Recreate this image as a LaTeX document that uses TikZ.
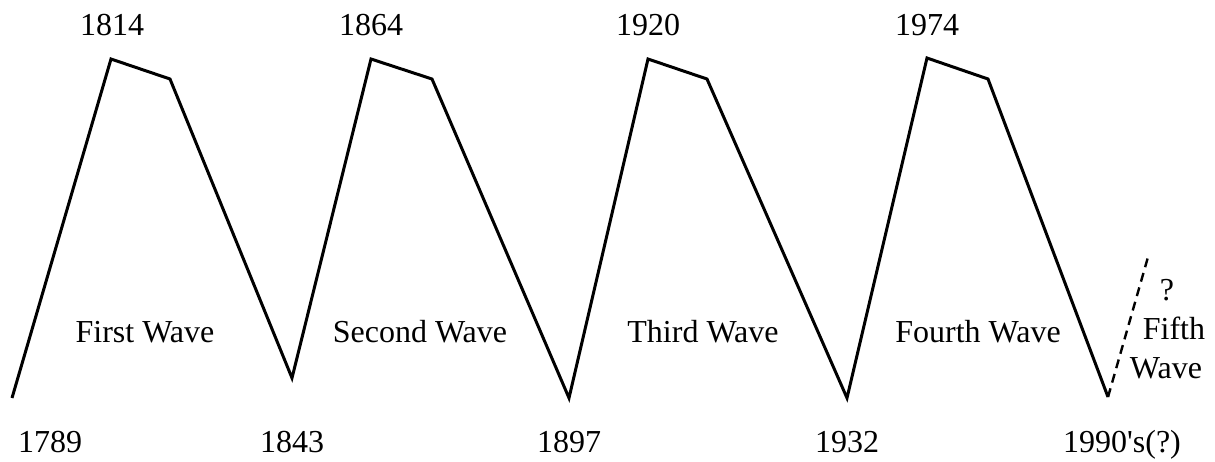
\documentclass[tikz,border=0pt]{standalone}
\usepackage{fontspec}
\setmainfont{Liberation Serif}
\usetikzlibrary{positioning}

\begin{document}
\begin{tikzpicture}[x=1pt, y=-1pt, year/.style={font=\fontsize{32}{36}\selectfont, anchor=base}, wavelabel/.style={font=\fontsize{32}{36}\selectfont}, wave/.style={draw=black, line width=3pt, line join=miter}]
    \useasboundingbox (0,0) rectangle (1215,461);
    % turning points of the waves
    \coordinate (s0) at (12,398);
    \coordinate (p1) at (111,59);  \coordinate (q1) at (170,79);  \coordinate (s1) at (292,378);
    \coordinate (p2) at (371,59);  \coordinate (q2) at (432,79);  \coordinate (s2) at (569,398);
    \coordinate (p3) at (648,59);  \coordinate (q3) at (707,79);  \coordinate (s3) at (847,398);
    \coordinate (p4) at (927,58);  \coordinate (q4) at (988,79);  \coordinate (s4) at (1108,397);
    \coordinate (p5) at (1148,257);
    \draw[wave] (s0) -- (p1) -- (q1) -- (s1) -- (p2) -- (q2) -- (s2) -- (p3) -- (q3) -- (s3) -- (p4) -- (q4) -- (s4);
    \draw[wave, line width=2.4pt, dash pattern=on 9pt off 6pt] (s4) -- (p5);
    % years
    \node[year] (y1814) at (112,35) {1814};
    \node[year] (y1864) at (371,35) {1864};
    \node[year] (y1920) at (648,35) {1920};
    \node[year] (y1974) at (927,35) {1974};
    \node[year] (y1789) at (50,452) {1789};
    \node[year] (y1843) at (292,452) {1843};
    \node[year] (y1897) at (569,452) {1897};
    \node[year] (y1932) at (847,452) {1932};
    \node[year] (y1990) at (1122,452) {1990\textquotesingle s(?)};
    % wave names
    \node[wavelabel] (w1) at (145,332) {First Wave};
    \node[wavelabel] (w2) at (420,332) {Second Wave};
    \node[wavelabel] (w3) at (703,332) {Third Wave};
    \node[wavelabel] (w4) at (978,332) {Fourth Wave};
    \node[wavelabel] (w5q) at (1167,290) {?};
    \node[wavelabel] (w5a) at (1174,328) {Fifth};
    \node[wavelabel] (w5b) at (1166,368) {Wave};
\end{tikzpicture}
\end{document}
